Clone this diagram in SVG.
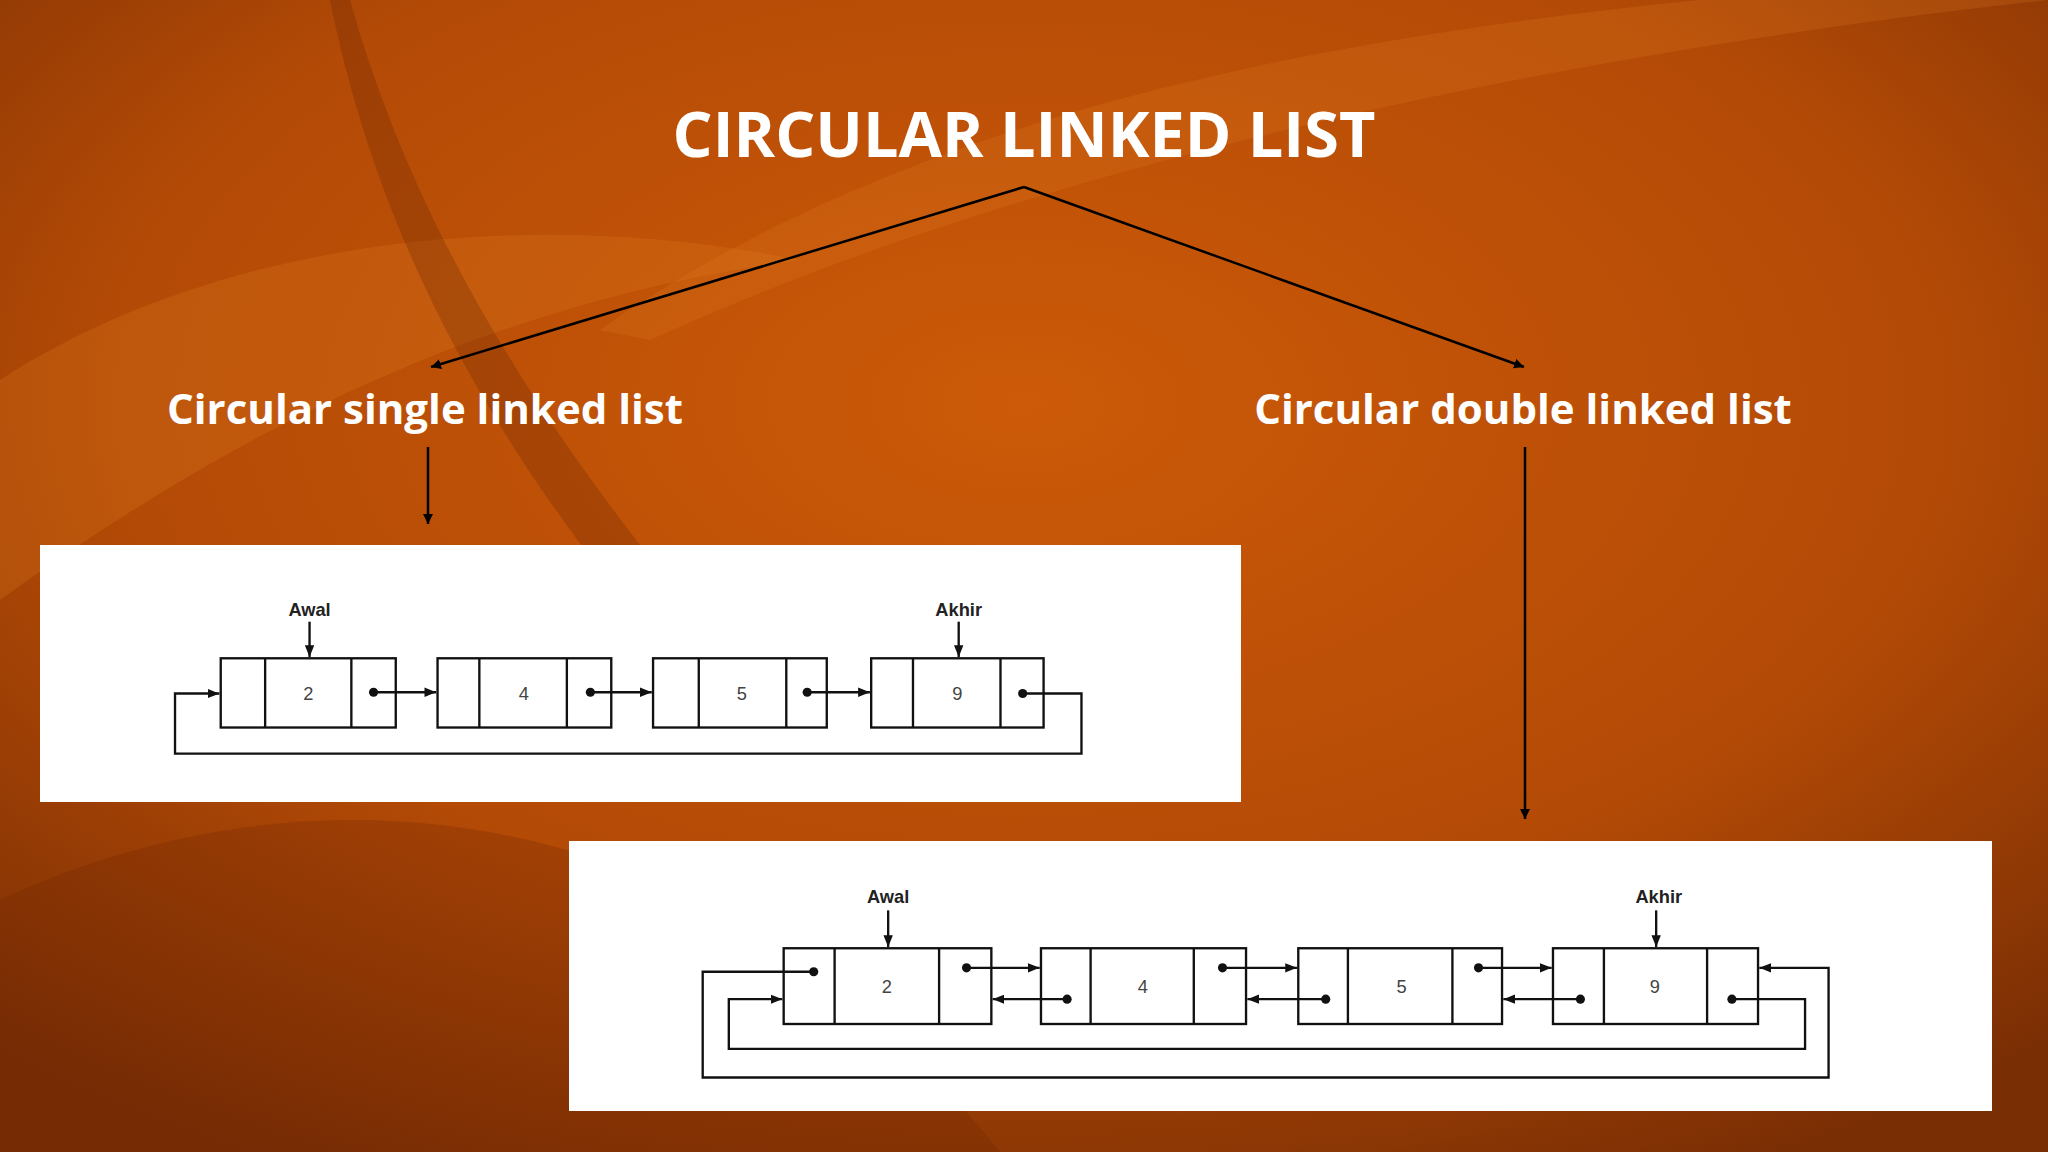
<svg xmlns="http://www.w3.org/2000/svg" width="2048" height="1152" viewBox="0 0 2048 1152">
<defs>
<radialGradient id="bg" cx="0.5" cy="0.35" r="0.75">
<stop offset="0" stop-color="#cc5a08"/>
<stop offset="0.6" stop-color="#b34a06"/>
<stop offset="1" stop-color="#7a2e04"/>
</radialGradient>
<marker id="a" viewBox="0 0 10 10" refX="10" refY="5" markerWidth="10" markerHeight="10" markerUnits="userSpaceOnUse" orient="auto"><path d="M0,0 L10,5 L0,10 z" fill="#000"/></marker>
<marker id="b" viewBox="0 0 10 10" refX="10" refY="5" markerWidth="9" markerHeight="9" markerUnits="userSpaceOnUse" orient="auto"><path d="M0,1 L10,5 L0,9 z" fill="#111"/></marker>
<style>
.t{font-family:"Open Sans","Liberation Sans",sans-serif;font-weight:bold;fill:#fff}
.c{stroke:#000;stroke-width:2.5;fill:none}
.n rect,.n line{stroke:#111;stroke-width:1.8;fill:none}
.l{font-family:"Liberation Sans",Arial,sans-serif;font-weight:bold;font-size:14px;fill:#222;text-anchor:middle}
.v{font-family:"Liberation Sans",Arial,sans-serif;font-size:14px;fill:#444;text-anchor:middle}
.w{stroke:#111;stroke-width:1.8;fill:none}
</style>
</defs>
<rect width="2048" height="1152" fill="url(#bg)"/>
<path d="M0,380 C200,250 500,200 800,260 C500,300 250,420 0,600 Z" fill="#e07a20" opacity="0.25"/>
<path d="M350,0 C420,250 560,450 700,620 L640,620 C500,450 380,250 330,0 Z" fill="#5a2002" opacity="0.25"/>
<path d="M600,330 C900,120 1300,40 1700,0 L2048,0 C1500,60 1000,180 650,340 Z" fill="#e8802a" opacity="0.2"/>
<path d="M0,900 C300,760 700,780 1000,1152 L0,1152 Z" fill="#6a2502" opacity="0.25"/>
<text class="t" x="1024" y="157" font-size="63" text-anchor="middle">CIRCULAR LINKED LIST</text>
<text class="t" x="425" y="424" font-size="42" text-anchor="middle">Circular single linked list</text>
<text class="t" x="1523" y="424" font-size="42" text-anchor="middle">Circular double linked list</text>
<g id="connectors">
<line class="c" x1="1024" y1="187" x2="431" y2="367" marker-end="url(#a)"/>
<line class="c" x1="1024" y1="187" x2="1524" y2="367" marker-end="url(#a)"/>
<line class="c" x1="428" y1="447" x2="428" y2="524" marker-end="url(#a)"/>
<line class="c" x1="1525" y1="447" x2="1525" y2="819" marker-end="url(#a)"/>
</g>
<g id="single">
<rect x="40" y="545" width="1201" height="257" fill="#fff"/>
<g transform="scale(1.30612)">
<g class="n">
<rect x="169" y="504" width="134" height="53"/><line x1="203" y1="504" x2="203" y2="557"/><line x1="269" y1="504" x2="269" y2="557"/>
<rect x="335" y="504" width="133" height="53"/><line x1="367" y1="504" x2="367" y2="557"/><line x1="434" y1="504" x2="434" y2="557"/>
<rect x="500" y="504" width="133" height="53"/><line x1="535" y1="504" x2="535" y2="557"/><line x1="602" y1="504" x2="602" y2="557"/>
<rect x="667" y="504" width="132" height="53"/><line x1="699" y1="504" x2="699" y2="557"/><line x1="766" y1="504" x2="766" y2="557"/>
</g>
<text class="v" x="236" y="536">2</text><text class="v" x="401" y="536">4</text><text class="v" x="568" y="536">5</text><text class="v" x="733" y="536">9</text>
<text class="l" x="237" y="472">Awal</text><text class="l" x="734" y="472">Akhir</text>
<line class="w" x1="237" y1="476" x2="237" y2="503" marker-end="url(#b)"/>
<line class="w" x1="734" y1="476" x2="734" y2="503" marker-end="url(#b)"/>
<g fill="#111"><circle cx="286" cy="530" r="3.5"/><circle cx="452" cy="530" r="3.5"/><circle cx="618" cy="530" r="3.5"/><circle cx="783" cy="531" r="3.5"/></g>
<line class="w" x1="286" y1="530" x2="334" y2="530" marker-end="url(#b)"/>
<line class="w" x1="452" y1="530" x2="499" y2="530" marker-end="url(#b)"/>
<line class="w" x1="618" y1="530" x2="666" y2="530" marker-end="url(#b)"/>
<polyline class="w" points="783,531 828,531 828,577 134,577 134,531 168,531" marker-end="url(#b)"/>
</g>
</g>
<g id="double">
<rect x="569" y="841" width="1423" height="270" fill="#fff"/>
<g transform="scale(1.30612)">
<g class="n">
<rect x="600" y="726" width="159" height="58"/><line x1="639" y1="726" x2="639" y2="784"/><line x1="719" y1="726" x2="719" y2="784"/>
<rect x="797" y="726" width="157" height="58"/><line x1="835" y1="726" x2="835" y2="784"/><line x1="914" y1="726" x2="914" y2="784"/>
<rect x="994" y="726" width="156" height="58"/><line x1="1032" y1="726" x2="1032" y2="784"/><line x1="1112" y1="726" x2="1112" y2="784"/>
<rect x="1189" y="726" width="157" height="58"/><line x1="1228" y1="726" x2="1228" y2="784"/><line x1="1307" y1="726" x2="1307" y2="784"/>
</g>
<text class="v" x="679" y="760">2</text><text class="v" x="875" y="760">4</text><text class="v" x="1073" y="760">5</text><text class="v" x="1267" y="760">9</text>
<text class="l" x="680" y="691">Awal</text><text class="l" x="1270" y="691">Akhir</text>
<line class="w" x1="680" y1="697" x2="680" y2="725" marker-end="url(#b)"/>
<line class="w" x1="1268" y1="697" x2="1268" y2="725" marker-end="url(#b)"/>
<g fill="#111">
<circle cx="740" cy="741" r="3.5"/><circle cx="936" cy="741" r="3.5"/><circle cx="1132" cy="741" r="3.5"/>
<circle cx="817" cy="765" r="3.5"/><circle cx="1015" cy="765" r="3.5"/><circle cx="1210" cy="765" r="3.5"/>
<circle cx="623" cy="744" r="3.5"/><circle cx="1326" cy="765" r="3.5"/></g>
<line class="w" x1="740" y1="741" x2="796" y2="741" marker-end="url(#b)"/>
<line class="w" x1="936" y1="741" x2="993" y2="741" marker-end="url(#b)"/>
<line class="w" x1="1132" y1="741" x2="1188" y2="741" marker-end="url(#b)"/>
<line class="w" x1="817" y1="765" x2="760" y2="765" marker-end="url(#b)"/>
<line class="w" x1="1015" y1="765" x2="955" y2="765" marker-end="url(#b)"/>
<line class="w" x1="1210" y1="765" x2="1151" y2="765" marker-end="url(#b)"/>
<polyline class="w" points="623,744 538,744 538,825 1400,825 1400,741 1347,741" marker-end="url(#b)"/>
<polyline class="w" points="1326,765 1382,765 1382,803 558,803 558,765 599,765" marker-end="url(#b)"/>
</g>
</g>
</svg>
